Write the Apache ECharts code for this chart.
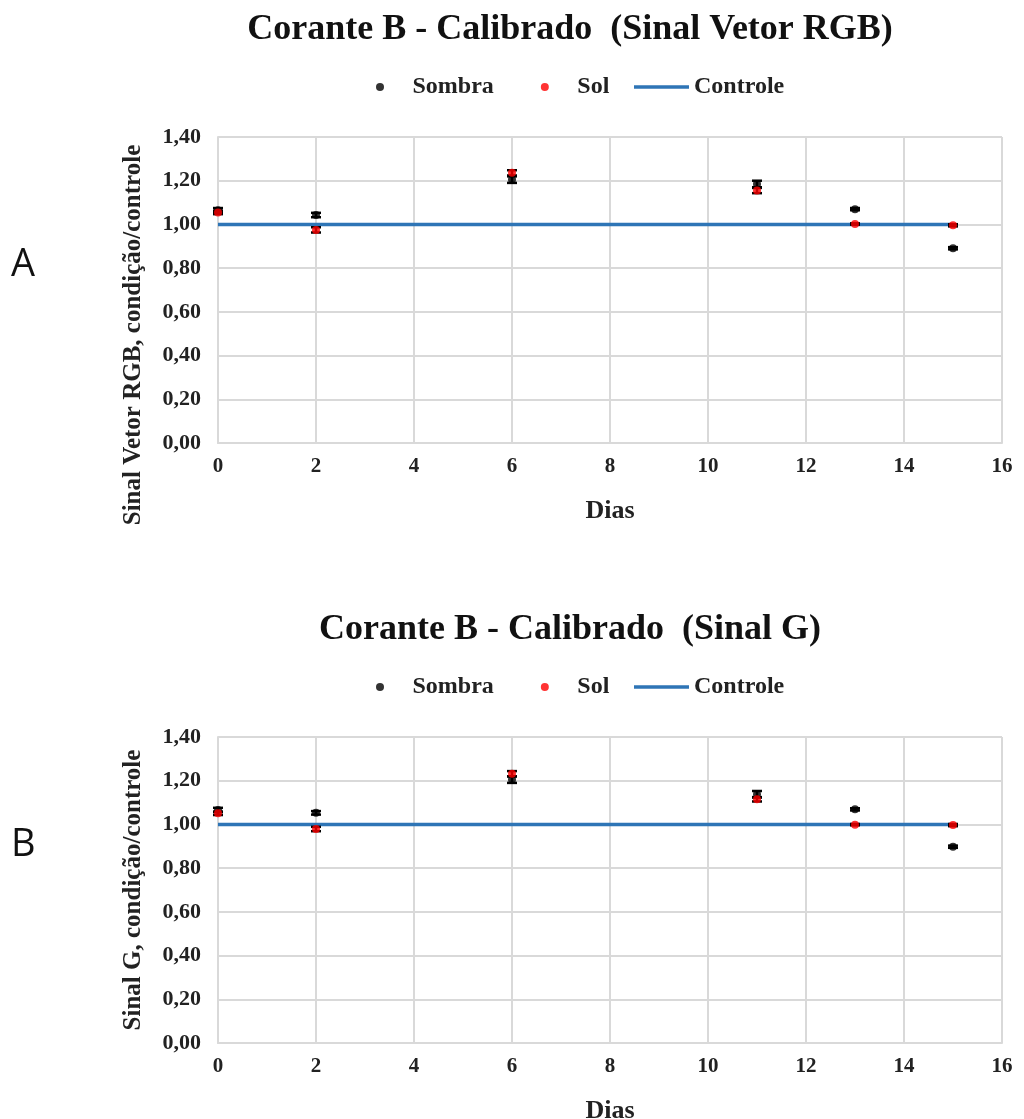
<!DOCTYPE html>
<html>
<head>
<meta charset="utf-8">
<script src="https://cdn.jsdelivr.net/npm/echarts@6/dist/echarts.min.js"></script>
<style>html,body{margin:0;padding:0;background:#fff;}#c{width:1024px;height:1119px;}</style>
</head>
<body>
<div id="c"></div>
<script>
// ---- data ----
var days = [0, 2, 6, 11, 13, 15];
var controleX = [0, 15];
var controleY = [1, 1];

var rgbSombra    = [1.065, 1.043, 1.205, 1.185, 1.070, 0.891];
var rgbSombraErr = [0.010, 0.010, 0.015, 0.015, 0.005, 0.005];
var rgbSol       = [1.055, 0.975, 1.236, 1.155, 1.002, 0.996];
var rgbSolErr    = [0.008, 0.012, 0.012, 0.012, 0.003, 0.005];

var gSombra    = [1.066, 1.053, 1.205, 1.138, 1.069, 0.898];
var gSombraErr = [0.010, 0.008, 0.015, 0.015, 0.005, 0.005];
var gSol       = [1.051, 0.979, 1.232, 1.115, 0.999, 0.997];
var gSolErr    = [0.008, 0.010, 0.012, 0.010, 0.003, 0.005];

var yTicks = ['0,00','0,20','0,40','0,60','0,80','1,00','1,20','1,40'];
var xTicks = ['0','2','4','6','8','10','12','14','16'];

var titleA = 'Corante B - Calibrado  (Sinal Vetor RGB)';
var titleB = 'Corante B - Calibrado  (Sinal G)';
var yNameA = 'Sinal Vetor RGB, condição/controle';
var yNameB = 'Sinal G, condição/controle';
var xName = 'Dias';

// ---- helpers ----
var serif = '"Liberation Serif", "Times New Roman", serif';
function pts(xs, ys) { return xs.map(function (x, i) { return [x, ys[i]]; }); }
function errPts(xs, ys, es) { return xs.map(function (x, i) { return [x, ys[i], es[i]]; }); }

function errSeries(idx, xs, ys, es, z) {
  return {
    type: 'custom', xAxisIndex: idx, yAxisIndex: idx, z: z, silent: true,
    data: errPts(xs, ys, es),
    renderItem: function (params, api) {
      var x = api.value(0), y = api.value(1), e = api.value(2);
      var lo = api.coord([x, y - e]), hi = api.coord([x, y + e]);
      var w = 5;
      var st = { stroke: '#000', lineWidth: 2.5 };
      return { type: 'group', children: [
        { type: 'line', shape: { x1: lo[0], y1: lo[1], x2: hi[0], y2: hi[1] }, style: st },
        { type: 'line', shape: { x1: lo[0]-w, y1: lo[1], x2: lo[0]+w, y2: lo[1] }, style: st },
        { type: 'line', shape: { x1: hi[0]-w, y1: hi[1], x2: hi[0]+w, y2: hi[1] }, style: st }
      ]};
    },
    encode: { x: 0, y: [1] }
  };
}

function xAxisCfg(idx) {
  return {
    gridIndex: idx, type: 'value', min: 0, max: 16, interval: 2,
    name: xName, nameLocation: 'middle', nameGap: 55,
    nameTextStyle: { fontFamily: serif, fontWeight: 'bold', fontSize: 26, color: '#222' },
    axisLine: { show: true, lineStyle: { color: '#d9d9d9', width: 2 } },
    axisTick: { show: false },
    axisLabel: { fontFamily: serif, fontWeight: 'bold', fontSize: 21, color: '#222', margin: 13,
      formatter: function (v) { return xTicks[Math.round(v / 2)]; } },
    splitLine: { show: true, lineStyle: { color: '#d9d9d9', width: 2 } }
  };
}
function yAxisCfg(idx, name, pad) {
  return {
    gridIndex: idx, type: 'value', min: 0, max: 1.4, interval: 0.2,
    name: name, nameLocation: 'middle', nameGap: 72, nameRotate: 90,
    nameTextStyle: { fontFamily: serif, fontWeight: 'bold', fontSize: 25, color: '#222', padding: pad },
    axisLine: { show: true, lineStyle: { color: '#d9d9d9', width: 2 } },
    axisTick: { show: false },
    axisLabel: { fontFamily: serif, fontWeight: 'bold', fontSize: 22, color: '#222', margin: 17,
      formatter: function (v) { return yTicks[Math.round(v / 0.2)]; } },
    splitLine: { show: true, lineStyle: { color: '#d9d9d9', width: 2 } }
  };
}
function legendCfg(top, left, gap, items) {
  return {
    top: top, left: left, itemWidth: 55, itemHeight: 8, itemGap: gap,
    textStyle: { fontFamily: serif, fontWeight: 'bold', fontSize: 24, color: '#222' },
    data: items,
    selectedMode: false
  };
}
var dotItems = [ { name: 'Sombra', icon: 'circle' }, { name: 'Sol', icon: 'circle' } ];
var lineItems = [ { name: 'Controle', icon: 'path://M0,0 L55,0 L55,3.5 L0,3.5 Z' } ];

var chart = echarts.init(document.getElementById('c'), null, { renderer: 'canvas' });
var option = {
  backgroundColor: '#fff',
  animation: false,
  title: [
    { text: titleA, left: 565, top: 7, textAlign: 'center',
      textStyle: { fontFamily: serif, fontWeight: 'bold', fontSize: 36, color: '#111' } },
    { text: titleB, left: 565, top: 607, textAlign: 'center',
      textStyle: { fontFamily: serif, fontWeight: 'bold', fontSize: 36, color: '#111' } }
  ],
  legend: [
    legendCfg(70, 371, 47, dotItems), legendCfg(70, 629, 10, lineItems),
    legendCfg(670, 371, 47, dotItems), legendCfg(670, 629, 10, lineItems)
  ],
  grid: [
    { left: 218, right: 22, top: 137, height: 306, containLabel: false, outerBoundsMode: 'none' },
    { left: 218, right: 22, top: 737, height: 306, containLabel: false, outerBoundsMode: 'none' }
  ],
  xAxis: [xAxisCfg(0), xAxisCfg(1)],
  yAxis: [yAxisCfg(0, yNameA, [0, 90, 0, 0]), yAxisCfg(1, yNameB, [0, 0, 0, 0])],
  graphic: [
    { type: 'text', left: 11, top: 246, style: { text: 'A', font: '38px "Open Sans", "Liberation Sans", sans-serif', fill: '#111' } },
    { type: 'text', left: 11, top: 826, style: { text: 'B', font: '38px "Open Sans", "Liberation Sans", sans-serif', fill: '#111' } }
  ],
  series: [
    { name: 'Controle', type: 'line', xAxisIndex: 0, yAxisIndex: 0, z: 1, data: pts(controleX, controleY),
      symbol: 'none', lineStyle: { color: '#2e75b6', width: 3.5 }, itemStyle: { color: '#2e75b6' } },
    errSeries(0, days, rgbSombra, rgbSombraErr, 2),
    { name: 'Sombra', type: 'scatter', xAxisIndex: 0, yAxisIndex: 0, z: 3, symbolSize: 8,
      data: pts(days, rgbSombra), itemStyle: { color: '#000' } },
    errSeries(0, days, rgbSol, rgbSolErr, 4),
    { name: 'Sol', type: 'scatter', xAxisIndex: 0, yAxisIndex: 0, z: 5, symbolSize: 8,
      data: pts(days, rgbSol), itemStyle: { color: '#ff0000' } },

    { name: 'Controle', type: 'line', xAxisIndex: 1, yAxisIndex: 1, z: 1, data: pts(controleX, controleY),
      symbol: 'none', lineStyle: { color: '#2e75b6', width: 3.5 }, itemStyle: { color: '#2e75b6' } },
    errSeries(1, days, gSombra, gSombraErr, 2),
    { name: 'Sombra', type: 'scatter', xAxisIndex: 1, yAxisIndex: 1, z: 3, symbolSize: 8,
      data: pts(days, gSombra), itemStyle: { color: '#000' } },
    errSeries(1, days, gSol, gSolErr, 4),
    { name: 'Sol', type: 'scatter', xAxisIndex: 1, yAxisIndex: 1, z: 5, symbolSize: 8,
      data: pts(days, gSol), itemStyle: { color: '#ff0000' } }
  ]
};
chart.setOption(option);
</script>
</body>
</html>
